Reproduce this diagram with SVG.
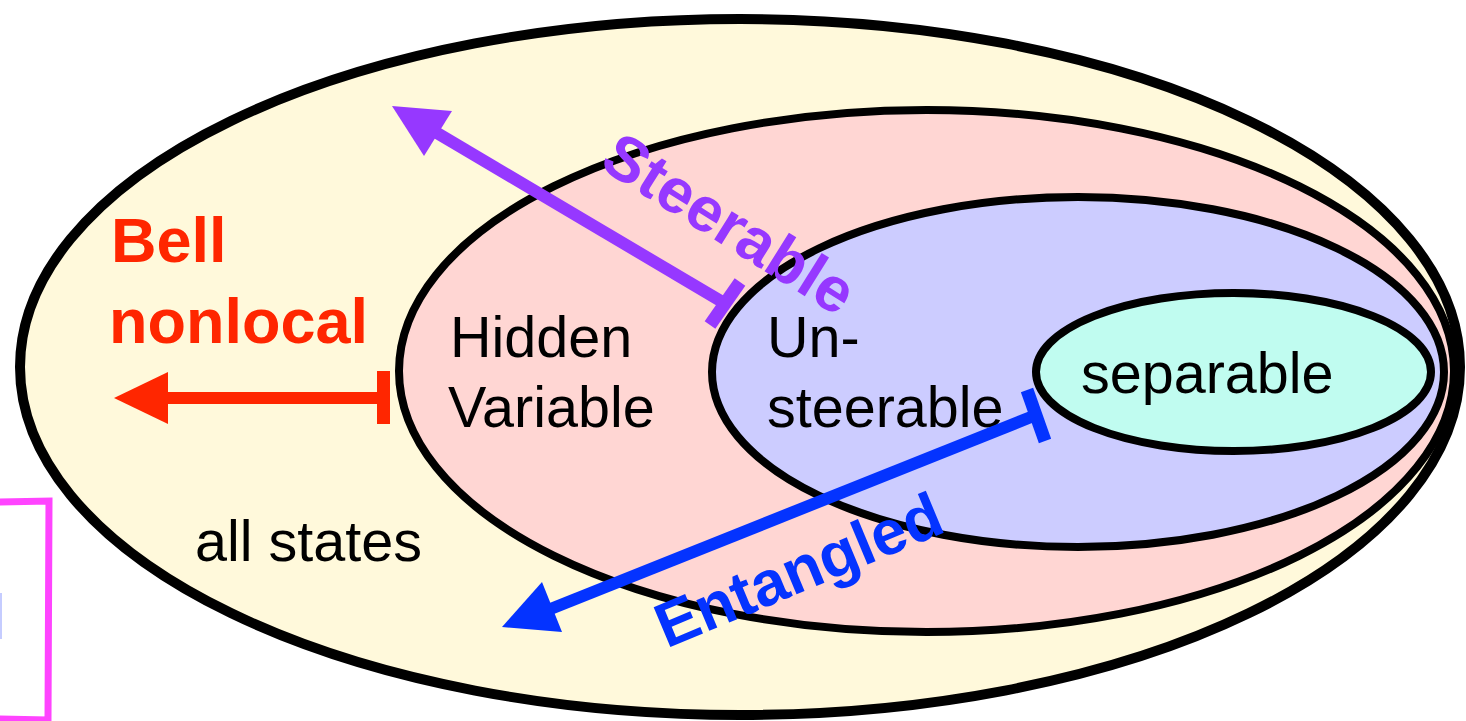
<svg xmlns="http://www.w3.org/2000/svg" width="1466" height="721" viewBox="0 0 1466 721">
<style>
.set{stroke:#000;stroke-width:8}
.lbl{font-family:"Liberation Sans",Arial,Helvetica,sans-serif;font-size:57.5px;fill:#000}
.bold{font-family:"Liberation Sans",Arial,Helvetica,sans-serif;font-weight:bold;font-size:63px}
</style>
<rect width="1466" height="721" fill="#fff"/>
<g id="annot">
<path d="M-5,502 L49,501 L48,720 L-5,719" fill="none" stroke="#FF44FF" stroke-width="7"/>
<rect x="0" y="593" width="2" height="46" fill="#C5CCFF"/>
</g>
<g id="all-states">
<ellipse cx="740" cy="367" rx="720" ry="348" fill="#FFF9DB" stroke="#000" stroke-width="10"/>
<text class="lbl" x="195" y="561" font-size="57">all states</text>
</g>
<g id="hidden-variable">
<ellipse cx="926.5" cy="371" rx="527.5" ry="261" fill="#FFD6D3" class="set"/>
<text class="lbl" x="450" y="357">Hidden</text>
<text class="lbl" x="448" y="427">Variable</text>
</g>
<g id="unsteerable">
<ellipse cx="1078" cy="372" rx="366" ry="175" fill="#CCCCFF" class="set"/>
<text class="lbl" x="767" y="357">Un-</text>
<text class="lbl" x="767" y="427">steerable</text>
</g>
<g id="separable">
<ellipse cx="1233.5" cy="372" rx="197.5" ry="79" fill="#C0FCF0" class="set"/>
<text class="lbl" x="1081" y="393">separable</text>
</g>
<g id="connectors">
<g id="bell-arrow" fill="#FF2600">
<line x1="160" y1="398" x2="384" y2="398" stroke="#FF2600" stroke-width="12"/>
<polygon points="114,398 168,372 168,424"/>
<rect x="377" y="371" width="13" height="53"/>
</g>
<g id="steer-arrow" fill="#9638FF">
<line x1="432" y1="130" x2="725" y2="303.5" stroke="#9638FF" stroke-width="12"/>
<polygon points="392,106 452,111 424,156"/>
<line x1="740" y1="282" x2="710" y2="325" stroke="#9638FF" stroke-width="13"/>
</g>
<g id="ent-arrow" fill="#0433FF">
<line x1="548" y1="610" x2="1036" y2="415" stroke="#0433FF" stroke-width="12"/>
<polygon points="502,627 542,582 562,632"/>
<line x1="1027" y1="390" x2="1045" y2="441" stroke="#0433FF" stroke-width="13"/>
</g>
</g>
<g id="labels">
<text class="bold" x="111" y="262" fill="#FF2600">Bell</text>
<text class="bold" x="109" y="343" fill="#FF2600">nonlocal</text>
<text class="bold" fill="#9638FF" text-anchor="middle" transform="translate(718,242) rotate(32)">Steerable</text>
<text class="bold" fill="#0433FF" text-anchor="middle" transform="translate(807,590) rotate(-22.7)">Entangled</text>
</g>
</svg>
